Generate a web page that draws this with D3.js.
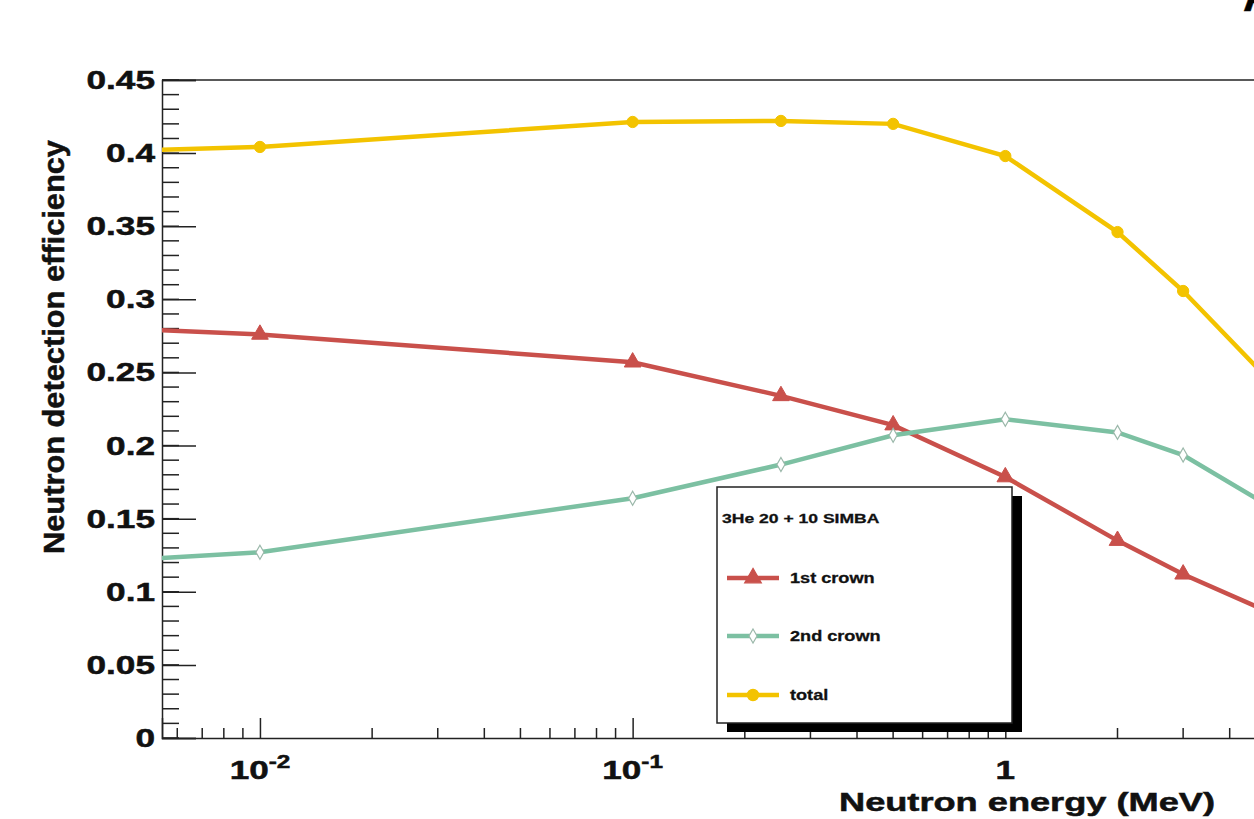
<!DOCTYPE html>
<html>
<head>
<meta charset="utf-8">
<script src="https://cdn.jsdelivr.net/npm/d3@7"></script>
<style>
  body { margin: 0; background: #fff; }
  text { font-family: "Liberation Sans", Arial, sans-serif; font-weight: bold; fill: #111; stroke: #111; stroke-width: 0.5px; }
</style>
</head>
<body>
<svg id="chart" width="1254" height="819"></svg>
<script>
'use strict';

// energies in MeV
var energies = [0.001, 0.01, 0.1, 0.25, 0.5, 1, 2, 3, 5];
var firstCrown = [0.287, 0.276, 0.257, 0.234, 0.214, 0.1785, 0.135, 0.112, 0.087];
var secondCrown = [0.112, 0.127, 0.164, 0.187, 0.207, 0.218, 0.209, 0.1935, 0.160];
var total = [0.397, 0.4042, 0.4213, 0.422, 0.420, 0.398, 0.346, 0.3057, 0.247];

var yTicks = [0, 0.05, 0.1, 0.15, 0.2, 0.25, 0.3, 0.35, 0.4, 0.45];
var yTickLabels = ["0", "0.05", "0.1", "0.15", "0.2", "0.25", "0.3", "0.35", "0.4", "0.45"];
var xMajor = [0.01, 0.1, 1];

var series = [
    {name: "1st crown", values: firstCrown, color: "#c9504b", marker: "triangle"},
    {name: "2nd crown", values: secondCrown, color: "#7cc0a2", marker: "diamond"},
    {name: "total", values: total, color: "#f3c300", marker: "circle"}
];

var margin = {left: 162, top: 80, bottom: 738};
var x = d3.scaleLog().domain([0.00546, 10]).range([margin.left, 1378]);
var y = d3.scaleLinear().domain([0, 0.45]).range([margin.bottom, margin.top]);

var svg = d3.select("#chart");

// the original picture is stretched sideways, so texts get a horizontal scale
function wideText(parent, px, py, sx, anchor, size) {
    return parent.append("g")
        .attr("transform", "translate(" + px + "," + py + ") scale(" + sx + ",1)")
        .append("text")
        .attr("text-anchor", anchor)
        .style("font-size", size + "px");
}

svg.append("defs").append("clipPath").attr("id", "plotClip")
    .append("rect")
    .attr("x", margin.left).attr("y", margin.top)
    .attr("width", 1400).attr("height", margin.bottom - margin.top);

// frame
svg.append("line")
    .attr("x1", margin.left).attr("x2", 1400)
    .attr("y1", margin.top).attr("y2", margin.top)
    .attr("stroke", "#222").attr("stroke-width", 1.5);

// minor ticks for x (2..9 per decade)
var xMinor = [];
[0.001, 0.01, 0.1, 1].forEach(function(dec) {
    for (var k = 2; k <= 9; k++) {
        var v = dec * k;
        if (v > x.domain()[0] && v < x.domain()[1]) xMinor.push(v);
    }
});

var xAxis = d3.axisBottom(x).tickValues(xMajor).tickSize(-20).tickFormat("");
svg.append("g").attr("transform", "translate(0," + margin.bottom + ")")
    .call(xAxis)
    .call(function(g) {
        g.select(".domain").attr("stroke", "#222").attr("stroke-width", 1.5);
        g.selectAll(".tick line").attr("stroke", "#222").attr("stroke-width", 1.5);
    });

svg.append("g").selectAll("line").data(xMinor).enter().append("line")
    .attr("x1", function(d) { return x(d); })
    .attr("x2", function(d) { return x(d); })
    .attr("y1", margin.bottom).attr("y2", margin.bottom - 10)
    .attr("stroke", "#222").attr("stroke-width", 1.5);

// x tick labels
xMajor.forEach(function(v) {
    var exp = Math.round(Math.log10(v));
    if (exp === 0) {
        wideText(svg, x(v), 779, 1.35, "middle", 26).text("1");
    } else {
        var t = wideText(svg, x(v), 779, 1.35, "middle", 26);
        t.append("tspan").text("10");
        t.append("tspan").attr("dy", -11).style("font-size", "18px").text(String(exp));
    }
});

// y axis
var yMinor = d3.range(0, 0.4501, 0.01);
var yAxis = d3.axisLeft(y).tickValues(yTicks).tickSize(-34).tickFormat("");
svg.append("g").attr("transform", "translate(" + margin.left + ",0)")
    .call(yAxis)
    .call(function(g) {
        g.select(".domain").attr("stroke", "#222").attr("stroke-width", 1.5);
        g.selectAll(".tick line").attr("stroke", "#222").attr("stroke-width", 1.5);
    });

yTicks.forEach(function(v, i) {
    wideText(svg, 155, y(v) + 9, 1.38, "end", 25.5).text(yTickLabels[i]);
});

svg.append("g").selectAll("line").data(yMinor).enter().append("line")
    .attr("x1", margin.left).attr("x2", margin.left + 17)
    .attr("y1", function(d) { return y(d); })
    .attr("y2", function(d) { return y(d); })
    .attr("stroke", "#222").attr("stroke-width", 1.5);

// axis titles
wideText(svg, 1215, 811, 1.42, "end", 25.5).text("Neutron energy (MeV)");

svg.append("text")
    .attr("transform", "translate(64,347) rotate(-90)")
    .attr("text-anchor", "middle")
    .attr("textLength", 414)
    .attr("lengthAdjust", "spacingAndGlyphs")
    .style("font-size", "29px")
    .text("Neutron detection efficiency");

// partially visible panel letter
svg.append("text")
    .attr("x", 1243).attr("y", 11)
    .style("font-size", "44px").style("fill", "#000")
    .text("A");

// markers
function markerPath(type) {
    if (type === "triangle") return d3.symbol().type(d3.symbolTriangle).size(120)();
    if (type === "diamond") return "M0,-7L4,0L0,7L-4,0Z";
    return d3.symbol().type(d3.symbolCircle).size(100)();
}

var plot = svg.append("g").attr("clip-path", "url(#plotClip)");
var line = d3.line()
    .x(function(d) { return x(d[0]); })
    .y(function(d) { return y(d[1]); });

series.forEach(function(s) {
    var pts = energies.map(function(e, i) { return [e, s.values[i]]; });
    plot.append("path")
        .datum(pts)
        .attr("fill", "none")
        .attr("stroke", s.color)
        .attr("stroke-width", 4.5)
        .attr("d", line);

    plot.selectAll(".m-" + s.marker).data(pts).enter().append("path")
        .attr("transform", function(d) { return "translate(" + x(d[0]) + "," + y(d[1]) + ")"; })
        .attr("d", markerPath(s.marker))
        .attr("fill", s.marker === "diamond" ? "#fff" : s.color)
        .attr("stroke", s.marker === "diamond" ? "#9bb8aa" : s.color)
        .attr("stroke-width", s.marker === "diamond" ? 1.2 : 1);
});

// legend
var legend = svg.append("g");
legend.append("rect")
    .attr("x", 727).attr("y", 496).attr("width", 295).attr("height", 236)
    .attr("fill", "#000");
legend.append("rect")
    .attr("x", 717).attr("y", 487).attr("width", 295).attr("height", 236)
    .attr("fill", "#fff").attr("stroke", "#222").attr("stroke-width", 1.5);
wideText(legend, 722, 523, 1.3, "start", 13.5).style("stroke-width", "0.3px").text("3He 20 + 10 SIMBA");

var legendY = [578, 636, 695];
series.forEach(function(s, i) {
    var ly = legendY[i];
    legend.append("line")
        .attr("x1", 727).attr("x2", 779)
        .attr("y1", ly).attr("y2", ly)
        .attr("stroke", s.color).attr("stroke-width", 4.5);
    legend.append("path")
        .attr("transform", "translate(753," + ly + ")")
        .attr("d", markerPath(s.marker))
        .attr("fill", s.marker === "diamond" ? "#fff" : s.color)
        .attr("stroke", s.marker === "diamond" ? "#9bb8aa" : s.color)
        .attr("stroke-width", 1.2);
    wideText(legend, 790, ly + 5, 1.25, "start", 14.5).style("stroke-width", "0.3px").text(s.name);
});
</script>
</body>
</html>
